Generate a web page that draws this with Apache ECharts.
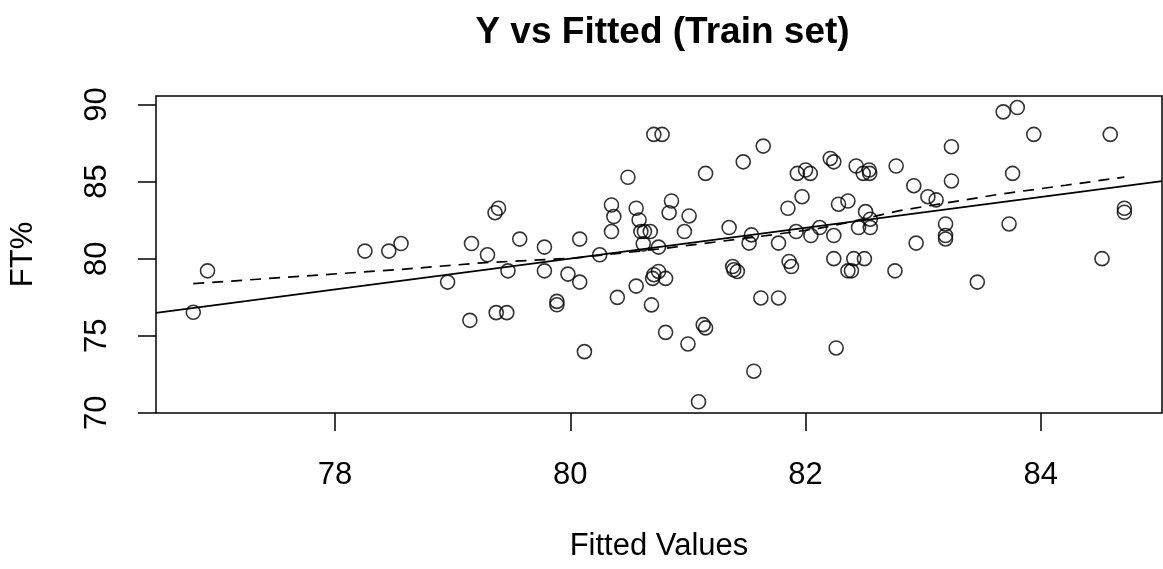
<!DOCTYPE html>
<html><head><meta charset="utf-8">
<script src="https://cdn.jsdelivr.net/npm/echarts@6/dist/echarts.min.js"></script>
<style>html,body{margin:0;padding:0;background:#fff}#chart{width:1163px;height:569px}</style>
</head><body><div id="chart"></div>
<script>
// Fitted values (x) and observed FT% (y), training set
const fittedValues = [
  76.916, 76.795, 78.254, 78.457, 78.561, 78.957, 79.16, 79.296, 79.146,
  79.36, 79.39, 79.47, 79.57, 79.37, 79.46, 79.78, 79.78, 79.886, 79.886, 79.98,
  80.08, 80.08, 80.12, 80.25, 80.35, 80.37, 80.35, 80.40, 80.49, 80.56,
  80.585, 80.60, 80.63, 80.68, 80.62, 80.75, 80.56, 80.69, 80.71, 80.78,
  80.70, 80.71, 80.75, 80.81, 80.81, 80.86, 80.84, 80.97, 81.01, 81.00,
  81.09, 81.13, 81.15, 81.15, 81.35, 81.38, 81.39, 81.42, 81.47, 81.52,
  81.54, 81.64, 81.62, 81.56, 81.77, 81.77, 81.85, 81.86, 81.88, 81.97,
  81.93, 82.00, 82.04, 81.92, 82.045, 82.12,
  82.21, 82.24, 82.24, 82.24, 82.26, 82.28, 82.36, 82.43, 82.49, 82.54,
  82.545, 82.51, 82.55, 82.45, 82.55, 82.41, 82.50, 82.36, 82.39, 82.76,
  82.77, 82.92, 82.94, 83.04, 83.11, 83.24, 83.24, 83.19, 83.19, 83.19,
  83.46, 83.68, 83.80, 83.76, 83.73, 83.94, 84.59, 84.71, 84.71, 84.52
];
const actualFT = [
  79.21, 76.52, 80.49, 80.49, 80.98, 78.48, 80.98, 80.25, 76.00,
  82.98, 83.27, 79.21, 81.27, 76.50, 76.50, 80.75, 79.21, 77.23, 77.01, 79.00,
  81.27, 78.48, 73.97, 80.25, 83.48, 82.73, 81.76, 77.49, 85.28, 83.27,
  82.51, 81.76, 81.76, 81.76, 80.96, 80.75, 78.22, 77.00, 88.06, 88.06,
  78.72, 78.96, 79.17, 78.72, 75.22, 83.74, 82.98, 81.76, 82.77, 74.47,
  70.72, 75.72, 75.51, 85.53, 82.02, 79.49, 79.28, 79.17, 86.28, 81.01,
  81.54, 87.30, 77.45, 72.70, 77.45, 81.01, 83.27, 79.82, 79.49, 84.02,
  85.53, 85.75, 85.53, 81.76, 81.50, 82.02,
  86.50, 86.28, 81.50, 80.00, 74.21, 83.53, 83.74, 86.01, 85.53, 85.75,
  85.53, 83.05, 82.56, 82.02, 82.02, 80.00, 80.00, 79.21, 79.21, 79.21,
  86.01, 84.73, 81.01, 84.02, 83.81, 85.04, 87.26, 82.25, 81.50, 81.28,
  78.48, 89.52, 89.80, 85.53, 82.25, 88.06, 88.06, 83.27, 83.01, 80.00
];
// Smoothed (lowess) curve, dashed
const smoothX = [76.795, 78.57, 79.25, 79.81, 80.05, 80.54, 80.77, 81.53, 82.10, 82.38, 82.80, 83.65, 84.21, 84.71];
const smoothY = [78.38, 79.31, 79.73, 79.95, 80.05, 80.45, 80.64, 81.36, 81.94, 82.38, 83.12, 84.18, 84.76, 85.29];
// Reference line y = a + b*x
const refIntercept = [0];
const refSlope = [1];
// Axes
const xTicks = [78, 80, 82, 84];
const yTicks = [70, 75, 80, 85, 90];
const xRange = [76.478, 85.03];
const yRange = [69.99, 90.55];

const FONT = "'Liberation Sans', Arial, Helvetica, sans-serif";
const chart = echarts.init(document.getElementById('chart'), null, {renderer: 'canvas'});

const points = fittedValues.map((x, i) => [x, actualFT[i]]);
const smooth = smoothX.map((x, i) => [x, smoothY[i]]);
const refLine = xRange.map(x => [x, refIntercept[0] + refSlope[0] * x]);

chart.setOption({
  animation: false,
  backgroundColor: '#ffffff',
  title: {
    text: 'Y vs Fitted (Train set)',
    left: 657.5, top: 9, textAlign: 'center',
    textStyle: {fontFamily: FONT, fontWeight: 'bold', fontSize: 37, color: '#000'}
  },
  grid: {left: 153, right: 1, top: 96, bottom: 156, show: true, borderColor: '#000', borderWidth: 1.5, backgroundColor: 'transparent'},
  xAxis: {
    type: 'value', min: xRange[0], max: xRange[1],
    name: 'Fitted Values', nameLocation: 'middle', nameGap: 118,
    nameTextStyle: {fontFamily: FONT, fontSize: 31, color: '#000'},
    axisLine: {show: false},
    axisTick: {show: true, length: 18, customValues: xTicks, lineStyle: {color: '#000', width: 1.5}},
    axisLabel: {customValues: xTicks, margin: 47, fontFamily: FONT, fontSize: 31, color: '#000', formatter: v => String(v)},
    splitLine: {show: false}
  },
  yAxis: {
    type: 'value', min: yRange[0], max: yRange[1],
    name: 'FT%', nameLocation: 'middle', nameGap: 117,
    nameTextStyle: {fontFamily: FONT, fontSize: 31, color: '#000'},
    axisLine: {show: false},
    axisTick: {show: true, length: 18, customValues: yTicks, lineStyle: {color: '#000', width: 1.5}},
    axisLabel: {customValues: yTicks, rotate: 90, margin: 43, fontFamily: FONT, fontSize: 31, color: '#000', formatter: v => String(v)},
    splitLine: {show: false}
  },
  series: [
    {
      type: 'scatter', data: points, symbol: 'circle', symbolSize: 14,
      itemStyle: {color: 'rgba(0,0,0,0)', borderColor: '#000', borderWidth: 1.6},
      silent: true
    },
    {
      type: 'line', data: refLine, symbol: 'none',
      lineStyle: {color: '#000', width: 1.7, type: 'solid'}, silent: true
    },
    {
      type: 'line', data: smooth, symbol: 'none', smooth: false,
      lineStyle: {color: '#000', width: 1.7, type: [11, 8]}, silent: true
    }
  ]
});
</script>
</body></html>
